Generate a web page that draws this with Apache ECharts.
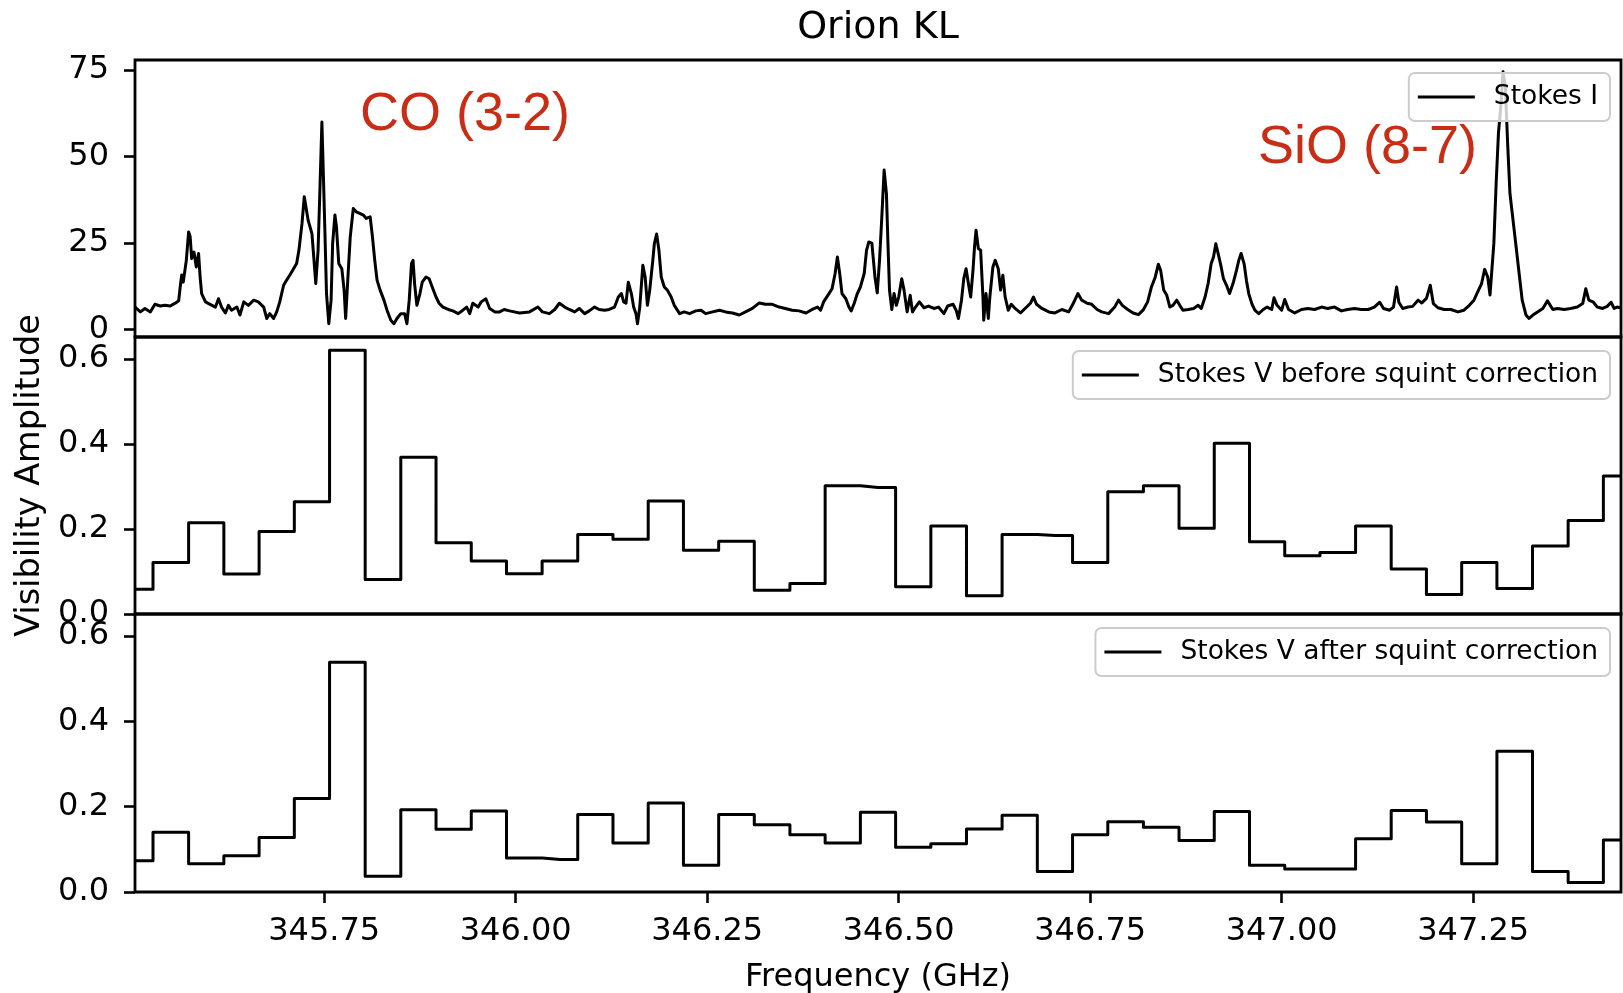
<!DOCTYPE html>
<html>
<head>
<meta charset="utf-8">
<title>Orion KL</title>
<script src="https://cdn.jsdelivr.net/npm/echarts@6/dist/echarts.min.js"></script>
<style>
    html, body { margin: 0; padding: 0; background: #fff; }
    #chart { width: 1623px; height: 993px; }
</style>
</head>
<body>
<div id="chart"></div>
<script>
// bin centres (GHz) of the Stokes V spectra
const freqBins = [
    345.503, 345.550, 345.596, 345.642, 345.688, 345.734, 345.780, 345.827, 345.873, 345.919,
    345.965, 346.011, 346.058, 346.104, 346.150, 346.196, 346.242, 346.288, 346.335, 346.381,
    346.427, 346.473, 346.519, 346.565, 346.612, 346.658, 346.704, 346.750, 346.796, 346.843,
    346.889, 346.935, 346.981, 347.027, 347.073, 347.120, 347.166, 347.212, 347.258, 347.304,
    347.351, 347.397, 347.443,
]

const stokesVBefore = [
    0.058, 0.121, 0.215, 0.094, 0.194, 0.264, 0.621, 0.081, 0.369, 0.168,
    0.125, 0.095, 0.125, 0.187, 0.176, 0.266, 0.150, 0.171, 0.056, 0.072,
    0.302, 0.298, 0.064, 0.207, 0.043, 0.187, 0.185, 0.121, 0.288, 0.302,
    0.202, 0.402, 0.170, 0.137, 0.145, 0.207, 0.106, 0.046, 0.121, 0.060,
    0.160, 0.220, 0.325,
]

const stokesVAfter = [
    0.073, 0.140, 0.066, 0.085, 0.128, 0.219, 0.539, 0.037, 0.193, 0.147,
    0.190, 0.080, 0.076, 0.182, 0.115, 0.209, 0.063, 0.182, 0.158, 0.134,
    0.115, 0.187, 0.105, 0.113, 0.148, 0.180, 0.048, 0.134, 0.165, 0.152,
    0.121, 0.189, 0.063, 0.054, 0.054, 0.125, 0.191, 0.164, 0.066, 0.330,
    0.048, 0.022, 0.122,
]

// Stokes I spectrum, [frequency GHz, amplitude]
const stokesI = [
    [345.503, 6.5], [345.510, 5.1], [345.516, 6.1], [345.523, 5.1], [345.529, 7.3], [345.536, 6.8],
    [345.542, 7.0], [345.549, 6.8], [345.556, 7.7], [345.560, 8.3], [345.562, 12.3], [345.564, 15.8],
    [345.566, 13.7], [345.570, 20.0], [345.573, 28.2], [345.575, 26.8], [345.577, 20.5], [345.580, 22.4],
    [345.583, 18.1], [345.586, 22.0], [345.588, 15.2], [345.590, 10.4], [345.595, 8.0], [345.601, 7.3],
    [345.608, 6.5], [345.612, 8.9], [345.616, 6.5], [345.621, 4.8], [345.625, 7.0], [345.629, 5.6],
    [345.636, 6.5], [345.640, 4.2], [345.645, 8.0], [345.651, 7.0], [345.658, 8.5], [345.664, 8.0],
    [345.671, 6.5], [345.675, 3.2], [345.679, 4.6], [345.684, 3.2], [345.688, 5.1], [345.692, 8.0],
    [345.697, 12.8], [345.701, 14.3], [345.705, 15.7], [345.710, 17.6], [345.714, 19.1], [345.717, 22.9],
    [345.721, 30.6], [345.724, 38.4], [345.726, 37.9], [345.729, 31.6], [345.734, 27.7], [345.737, 19.1],
    [345.739, 13.3], [345.742, 22.9], [345.744, 37.4], [345.747, 60.0], [345.749, 44.1], [345.751, 27.7],
    [345.753, 10.4], [345.756, 1.7], [345.759, 8.5], [345.761, 24.8], [345.764, 33.1], [345.766, 29.7],
    [345.769, 19.1], [345.773, 17.6], [345.776, 11.4], [345.778, 3.2], [345.781, 15.2], [345.784, 26.8],
    [345.788, 35.0], [345.792, 34.0], [345.797, 33.5], [345.801, 33.1], [345.805, 32.1], [345.810, 32.6],
    [345.813, 26.8], [345.816, 20.0], [345.819, 14.3], [345.823, 11.4], [345.828, 8.5], [345.832, 5.6],
    [345.837, 2.7], [345.841, 1.7], [345.845, 3.2], [345.850, 4.6], [345.855, 4.6], [345.858, 1.7],
    [345.861, 8.5], [345.864, 19.1], [345.866, 20.0], [345.868, 13.3], [345.871, 7.0], [345.875, 10.4],
    [345.878, 13.7], [345.883, 15.2], [345.887, 14.7], [345.891, 12.3], [345.896, 9.4], [345.900, 7.6],
    [345.905, 6.5], [345.912, 5.8], [345.918, 5.4], [345.925, 4.6], [345.931, 5.6], [345.936, 6.5],
    [345.940, 4.6], [345.944, 7.6], [345.951, 6.5], [345.955, 8.0], [345.961, 8.9], [345.966, 6.1],
    [345.973, 5.1], [345.979, 5.1], [345.985, 5.8], [345.992, 5.4], [346.005, 4.8], [346.018, 5.1],
    [346.029, 6.5], [346.035, 5.1], [346.044, 4.6], [346.051, 5.8], [346.057, 7.6], [346.064, 6.5],
    [346.070, 5.8], [346.077, 5.1], [346.083, 6.1], [346.090, 4.6], [346.096, 5.4], [346.103, 6.5],
    [346.109, 5.8], [346.116, 5.6], [346.122, 5.8], [346.129, 6.5], [346.134, 9.4], [346.138, 10.4],
    [346.141, 8.0], [346.144, 7.6], [346.147, 13.7], [346.151, 10.4], [346.154, 6.5], [346.157, 4.6],
    [346.159, 1.7], [346.162, 6.5], [346.166, 18.6], [346.169, 15.2], [346.172, 7.0], [346.175, 11.4],
    [346.179, 20.0], [346.181, 24.8], [346.184, 27.6], [346.187, 22.9], [346.190, 15.2], [346.194, 12.3],
    [346.198, 11.4], [346.203, 9.4], [346.207, 7.0], [346.214, 4.6], [346.220, 5.1], [346.227, 4.6],
    [346.235, 5.4], [346.242, 5.6], [346.248, 4.6], [346.257, 5.1], [346.266, 5.6], [346.274, 5.1],
    [346.283, 4.8], [346.292, 4.2], [346.300, 5.1], [346.309, 6.1], [346.318, 7.7], [346.326, 7.3],
    [346.335, 7.3], [346.344, 6.5], [346.352, 6.1], [346.361, 5.6], [346.370, 5.4], [346.379, 4.8],
    [346.387, 5.8], [346.394, 6.5], [346.398, 5.6], [346.402, 8.0], [346.409, 10.4], [346.413, 11.8],
    [346.417, 16.2], [346.420, 21.0], [346.423, 16.2], [346.426, 10.4], [346.431, 8.9], [346.435, 6.5],
    [346.438, 5.4], [346.442, 7.6], [346.446, 10.4], [346.450, 12.3], [346.455, 16.2], [346.458, 22.9],
    [346.461, 25.3], [346.465, 25.0], [346.469, 15.2], [346.472, 10.6], [346.475, 20.0], [346.478, 32.6],
    [346.481, 46.1], [346.484, 39.3], [346.486, 24.8], [346.488, 11.4], [346.491, 5.8], [346.494, 10.4],
    [346.497, 7.0], [346.500, 9.4], [346.504, 14.7], [346.507, 11.4], [346.511, 5.1], [346.515, 9.9],
    [346.518, 5.1], [346.522, 6.5], [346.527, 8.0], [346.533, 6.3], [346.539, 6.8], [346.546, 6.1],
    [346.552, 6.5], [346.559, 4.6], [346.564, 6.8], [346.571, 7.3], [346.575, 5.6], [346.578, 3.2],
    [346.582, 8.5], [346.585, 14.7], [346.588, 17.6], [346.591, 13.3], [346.594, 9.4], [346.597, 17.1],
    [346.599, 23.9], [346.601, 28.7], [346.604, 23.4], [346.607, 22.9], [346.610, 9.4], [346.611, 2.7],
    [346.614, 10.4], [346.617, 3.2], [346.619, 9.4], [346.623, 18.1], [346.626, 20.0], [346.630, 17.6],
    [346.633, 11.4], [346.636, 15.7], [346.639, 9.4], [346.643, 5.6], [346.647, 7.3], [346.652, 6.1],
    [346.659, 4.8], [346.665, 6.1], [346.672, 7.6], [346.676, 9.4], [346.680, 7.3], [346.687, 6.1],
    [346.696, 5.1], [346.704, 4.8], [346.713, 5.8], [346.722, 5.1], [346.728, 7.6], [346.734, 10.4],
    [346.739, 8.5], [346.746, 7.6], [346.752, 7.3], [346.759, 5.8], [346.765, 5.1], [346.774, 4.6],
    [346.782, 6.5], [346.787, 8.5], [346.792, 7.0], [346.799, 5.8], [346.806, 4.8], [346.813, 4.3],
    [346.819, 5.6], [346.825, 8.0], [346.830, 12.3], [346.835, 15.2], [346.839, 18.9], [346.842, 17.1],
    [346.846, 11.4], [346.850, 9.9], [346.854, 6.5], [346.858, 7.0], [346.863, 8.5], [346.867, 7.0],
    [346.871, 5.6], [346.878, 5.8], [346.885, 6.1], [346.891, 7.0], [346.895, 6.1], [346.900, 9.4],
    [346.904, 13.3], [346.908, 19.1], [346.911, 21.0], [346.914, 24.8], [346.917, 22.0], [346.921, 18.1],
    [346.924, 14.7], [346.928, 12.8], [346.932, 10.4], [346.937, 13.7], [346.941, 17.1], [346.944, 20.0],
    [346.947, 22.0], [346.951, 19.0], [346.954, 14.2], [346.957, 10.4], [346.961, 7.5], [346.965, 5.6],
    [346.970, 4.6], [346.976, 5.8], [346.981, 6.5], [346.987, 5.8], [346.990, 9.2], [346.994, 7.0],
    [347.000, 5.6], [347.004, 8.7], [347.009, 5.8], [347.017, 4.8], [347.026, 5.8], [347.034, 6.1],
    [347.043, 5.8], [347.052, 6.5], [347.060, 6.1], [347.069, 6.5], [347.078, 5.4], [347.086, 5.8],
    [347.095, 6.1], [347.104, 5.8], [347.113, 5.8], [347.121, 6.5], [347.128, 7.9], [347.133, 6.1],
    [347.141, 5.6], [347.146, 6.5], [347.150, 12.3], [347.153, 7.9], [347.158, 6.1], [347.165, 6.5],
    [347.171, 6.7], [347.178, 8.5], [347.183, 7.7], [347.189, 9.0], [347.194, 12.8], [347.198, 7.5],
    [347.204, 6.3], [347.212, 5.8], [347.221, 5.8], [347.230, 5.1], [347.238, 5.6], [347.245, 7.0],
    [347.251, 8.5], [347.257, 11.4], [347.261, 13.3], [347.265, 17.4], [347.269, 15.2], [347.272, 10.0],
    [347.274, 9.5], [347.277, 24.9], [347.280, 42.2], [347.283, 56.7], [347.286, 64.4], [347.289, 74.5],
    [347.292, 70.2], [347.295, 53.8], [347.298, 39.4], [347.302, 31.7], [347.306, 24.0], [347.310, 16.2],
    [347.314, 8.5], [347.319, 4.2], [347.323, 3.2], [347.328, 4.2], [347.334, 5.1], [347.341, 6.1],
    [347.347, 8.3], [347.354, 5.8], [347.360, 6.1], [347.369, 5.8], [347.377, 6.1], [347.386, 6.5],
    [347.393, 7.5], [347.397, 11.8], [347.401, 8.5], [347.407, 7.9], [347.412, 6.5], [347.419, 6.1],
    [347.425, 6.7], [347.430, 7.9], [347.434, 6.1], [347.438, 6.5], [347.443, 6.2],
]

const freqTicks = [345.75, 346.0, 346.25, 346.5, 346.75, 347.0, 347.25]
const stokesITicks = [0, 25, 50, 75]
const stokesVTicks = [0, 0.2, 0.4, 0.6]

const FONT = 'DejaVu Sans'
const RED = '#c92d16'
const X_MIN = 345.503
const X_MAX = 347.443

const grid = (top, height) => ({
    left: 135, right: 2, top, height,
    show: true, borderColor: '#000', borderWidth: 2.8, backgroundColor: 'transparent',
    containLabel: false, outerBoundsMode: 'none',
})

const hiddenX = (gridIndex) => ({
    type: 'value', gridIndex, min: X_MIN, max: X_MAX,
    axisLine: { show: false }, axisTick: { show: false }, axisLabel: { show: false }, splitLine: { show: false },
})

const yAxis = (gridIndex, min, max, ticks, digits) => ({
    type: 'value', gridIndex, min, max,
    axisLine: { show: false },
    splitLine: { show: false },
    axisTick: { show: true, customValues: ticks, length: 11, lineStyle: { color: '#000', width: 2.6 } },
    axisLabel: {
        customValues: ticks, margin: 26, color: '#000', fontFamily: FONT, fontSize: 32,
        formatter: (v) => v.toFixed(digits),
    },
})

const legend = (name, top) => ({
    data: [name], right: 13, top, orient: 'horizontal',
    selectedMode: false, icon: 'rect', itemWidth: 57, itemHeight: 3,
    padding: [9, 12, 9, 9],
    backgroundColor: 'rgba(255,255,255,0.8)', borderColor: '#cccccc', borderWidth: 2, borderRadius: 6,
    textStyle: { fontFamily: FONT, fontSize: 26.5, color: '#000', lineHeight: 30, padding: [0, 0, 0, 14] },
})

const lineSeries = (name, idx, data, step) => ({
    name, type: 'line', xAxisIndex: idx, yAxisIndex: idx, data, step,
    symbol: 'none', color: '#000', clip: true,
    lineStyle: { color: '#000', width: 3, join: 'round' },
    emphasis: { disabled: true },
})

const option = {
    animation: false,
    backgroundColor: '#fff',
    grid: [grid(60, 277), grid(337, 277), grid(614, 278)],
    xAxis: [
        hiddenX(0),
        hiddenX(1),
        {
            type: 'value', gridIndex: 2, min: X_MIN, max: X_MAX,
            axisLine: { show: false },
            splitLine: { show: false },
            axisTick: { show: true, customValues: freqTicks, length: 11, lineStyle: { color: '#000', width: 2.6 } },
            axisLabel: {
                customValues: freqTicks, margin: 24, color: '#000', fontFamily: FONT, fontSize: 32,
                formatter: (v) => v.toFixed(2),
            },
            name: 'Frequency (GHz)', nameLocation: 'middle', nameGap: 70,
            nameTextStyle: { color: '#000', fontFamily: FONT, fontSize: 32 },
        },
    ],
    yAxis: [
        yAxis(0, -2.15, 77.9, stokesITicks, 0),
        {
            ...yAxis(1, 0, 0.652, stokesVTicks, 1),
            name: 'Visibility Amplitude', nameLocation: 'middle', nameRotate: 90, nameGap: 88,
            nameTextStyle: { color: '#000', fontFamily: FONT, fontSize: 33.5 },
        },
        yAxis(2, 0, 0.652, stokesVTicks, 1),
    ],
    legend: [
        legend('Stokes I', 73),
        legend('Stokes V before squint correction', 351),
        legend('Stokes V after squint correction', 628),
    ],
    graphic: [
        { type: 'text', x: 878, y: 28, style: { text: 'Orion KL', fontFamily: FONT, fontSize: 38, fill: '#000', align: 'center', verticalAlign: 'middle' } },
        { type: 'text', x: 360, y: 115, style: { text: 'CO (3-2)', fontFamily: 'Liberation Sans', fontSize: 54, fill: RED, align: 'left', verticalAlign: 'middle' } },
        { type: 'text', x: 1258, y: 148, style: { text: 'SiO (8-7)', fontFamily: 'Liberation Sans', fontSize: 54, fill: RED, align: 'left', verticalAlign: 'middle' } },
    ],
    series: [
        lineSeries('Stokes I', 0, stokesI),
        lineSeries('Stokes V before squint correction', 1, freqBins.map((f, i) => [f, stokesVBefore[i]]), 'middle'),
        lineSeries('Stokes V after squint correction', 2, freqBins.map((f, i) => [f, stokesVAfter[i]]), 'middle'),
    ],
}

const chart = echarts.init(document.getElementById('chart'), null, { renderer: 'canvas' })
chart.setOption(option)
</script>
</body>
</html>
